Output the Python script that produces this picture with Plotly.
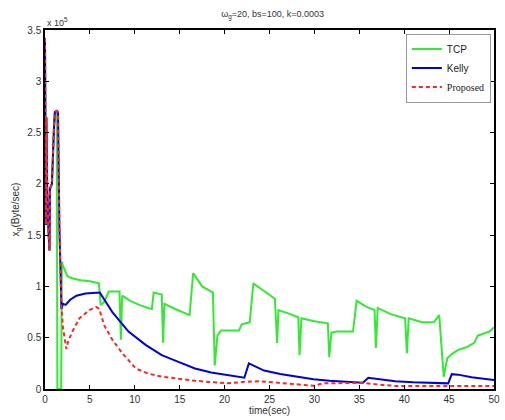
import plotly.graph_objects as go

# initial transient shared by all series (units of 1e5 Byte/sec)
t_init = [0, 0.1, 0.15, 0.25, 0.4, 0.5, 0.55, 0.77, 1.0, 1.1, 1.3, 1.45]
v_init = [3.42, 1.6, 2.65, 1.9, 1.52, 1.35, 1.95, 2.0, 2.55, 2.7, 2.71, 2.7]

t_kelly = [1.6, 1.83, 2.0, 2.3, 2.8, 3.5, 4.5, 5.5, 6.1, 7.5, 9.3, 11.2, 13.0, 15.0, 16.7, 18.5,
           20.3, 22.2, 22.7, 24.4, 26.2, 28.0, 29.9, 31.7, 33.5, 35.4, 36.0, 37.5, 39.0, 41.0,
           43.0, 44.9, 45.3, 46.0, 47.5, 49.0, 50.0]
v_kelly = [1.6, 0.78, 0.83, 0.82, 0.87, 0.91, 0.93, 0.94, 0.94, 0.75, 0.56, 0.43, 0.33, 0.26, 0.20, 0.16,
           0.135, 0.11, 0.25, 0.18, 0.146, 0.12, 0.094, 0.08, 0.071, 0.061, 0.11, 0.09, 0.075, 0.065,
           0.058, 0.055, 0.145, 0.14, 0.115, 0.095, 0.087]

t_prop = [1.6, 1.83, 2.0, 2.38, 2.6, 3.1, 3.85, 4.95, 5.7, 6.04, 6.6, 7.5, 8.6, 10.1, 11.5, 13.0,
          16.7, 20.3, 22.2, 24.0, 26.0, 28.0, 29.9, 31.0, 33.0, 35.4, 37.0, 39.0, 44.5, 50.0]
v_prop = [1.6, 0.8, 0.6, 0.39, 0.47, 0.57, 0.69, 0.77, 0.80, 0.78, 0.62, 0.48, 0.35, 0.20, 0.15, 0.12,
          0.08, 0.055, 0.07, 0.075, 0.06, 0.045, 0.032, 0.055, 0.06, 0.06, 0.045, 0.03, 0.03, 0.03]

t_tcp = [1.3, 1.38, 1.8, 1.88, 2.0, 2.5, 3.0, 4.0, 5.0, 6.0, 6.2, 6.6, 7.1, 8.3, 8.45, 8.6, 9.5, 10.5,
         11.5, 11.9, 12.1, 13.0, 13.15, 13.3, 14.5, 16.1, 16.5, 17.5, 18.7, 18.9, 19.2, 19.6, 21.6,
         21.9, 22.8, 23.2, 24.0, 25.6, 25.85, 26.0, 27.0, 28.2, 28.35, 28.55, 30.0, 31.5, 31.65,
         31.9, 32.5, 34.3, 34.7, 35.8, 36.7, 36.85, 37.05, 38.5, 40.1, 40.3, 40.5, 42.0, 43.3, 43.9,
         44.4, 44.8, 45.3, 46.0, 47.0, 47.8, 48.2, 48.9, 49.5, 50.0]
v_tcp = [2.71, 0.0, 0.0, 1.24, 1.2, 1.1, 1.08, 1.06, 1.05, 1.03, 0.82, 0.85, 0.95, 0.95, 0.48, 0.91, 0.86, 0.82,
         0.79, 0.78, 0.94, 0.92, 0.45, 0.83, 0.78, 0.72, 1.13, 1.0, 0.94, 0.23, 0.52, 0.57, 0.57,
         0.63, 0.65, 1.03, 0.98, 0.88, 0.45, 0.77, 0.74, 0.70, 0.33, 0.69, 0.66, 0.64, 0.31,
         0.55, 0.56, 0.56, 0.86, 0.80, 0.77, 0.40, 0.79, 0.73, 0.69, 0.35, 0.69, 0.65, 0.65, 0.72,
         0.12, 0.30, 0.34, 0.38, 0.41, 0.45, 0.52, 0.54, 0.56, 0.60]

x_ticks = [0, 5, 10, 15, 20, 25, 30, 35, 40, 45, 50]
y_ticks = [0, 0.5, 1, 1.5, 2, 2.5, 3, 3.5]

def pre(t0, tlist, vlist):
    ti = [t for t in t_init if t < t0]
    vi = [v for t, v in zip(t_init, v_init) if t < t0]
    return ti + tlist, vi + vlist

tt, vt = pre(1.3, t_tcp, v_tcp)
tk, vk = pre(1.6, t_kelly, v_kelly)
tp, vp = pre(1.6, t_prop, v_prop)

fig = go.Figure()
fig.add_trace(go.Scatter(x=tt, y=vt, mode="lines", name="TCP",
                         line=dict(color="#33ea33", width=2)))
fig.add_trace(go.Scatter(x=tk, y=vk, mode="lines", name="Kelly",
                         line=dict(color="#0000d8", width=2)))
fig.add_trace(go.Scatter(x=tp, y=vp, mode="lines",
                         name='<span style="font-family:Liberation Serif">Proposed</span>',
                         line=dict(color="#ff2626", width=2, dash="4px,3px")))

axis_common = dict(showline=True, linecolor="black", linewidth=1.5, mirror="ticks",
                   ticks="inside", ticklen=4, tickcolor="black", showgrid=False,
                   zeroline=False, tickfont=dict(size=10, color="#333"))

fig.update_layout(
    width=505, height=420,
    margin=dict(l=45, r=5, t=30, b=31),
    paper_bgcolor="white", plot_bgcolor="white",
    font=dict(family="Liberation Sans, Arial", size=10, color="#333"),
    title=dict(text="ω<sub>g</sub>=20, bs=100, k=0.0003", x=0.54, xanchor="center",
               y=0.975, yanchor="top", font=dict(size=9, color="#333")),
    xaxis=dict(range=[0, 50], tickvals=x_ticks,
               title=dict(text="time(sec)", standoff=2, font=dict(size=10)), **axis_common),
    yaxis=dict(range=[0, 3.5], tickvals=y_ticks, ticktext=[str(v) for v in y_ticks],
               title=dict(text="x<sub>g</sub>(Byte/sec)", standoff=6, font=dict(size=10)),
               **axis_common),
    legend=dict(x=0.993, y=0.99, xanchor="right", yanchor="top", bgcolor="white",
                bordercolor="#999", borderwidth=1, font=dict(size=10, color="#222"),
                tracegroupgap=0, itemwidth=30),
    showlegend=True,
    annotations=[dict(text="x 10<sup>5</sup>", xref="paper", yref="paper", x=0.0, y=1.0,
                      xanchor="left", yanchor="bottom", showarrow=False,
                      font=dict(size=9, color="#333"))],
)

fig.write_html("out.html")
